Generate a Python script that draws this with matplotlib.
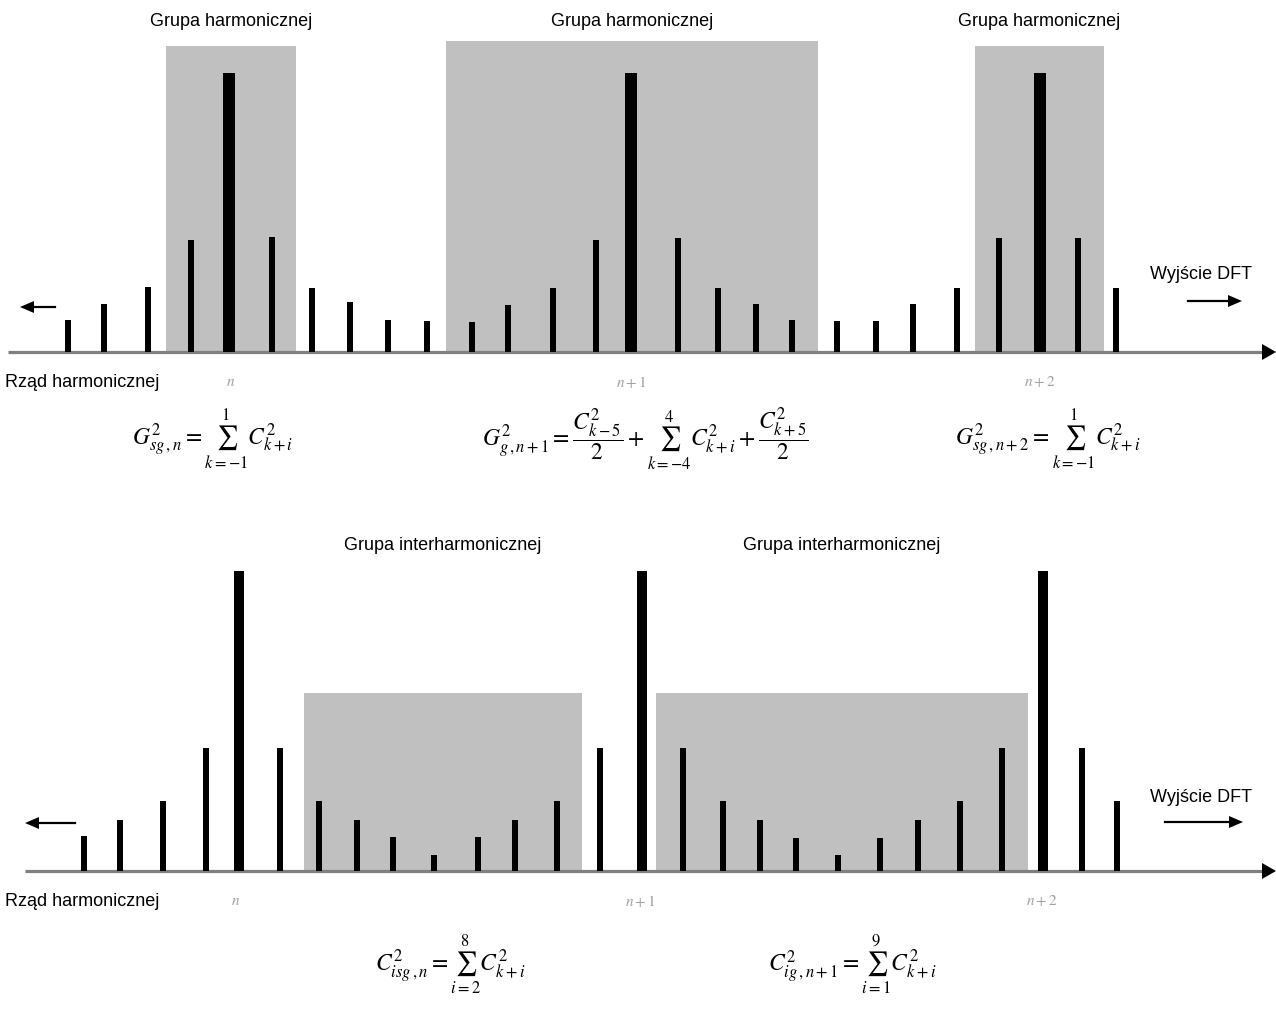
import matplotlib
matplotlib.use("Agg")
import matplotlib.pyplot as plt
from matplotlib.patches import Rectangle, Polygon

plt.rcParams['font.family'] = ['Liberation Sans', 'DejaVu Sans']
plt.rcParams['mathtext.fontset'] = 'stix'

W, H = 1276, 1012

# ---------------- data ----------------
top_x = [68, 104, 148, 191, 229, 272, 312, 350, 388, 427, 472, 508, 553, 596, 631,
         678, 718, 756, 792, 837, 876, 913, 957, 999, 1040, 1078, 1116]
top_h = [32, 48, 65, 112, 279, 115, 64, 50, 32, 31, 30, 47, 64, 112, 279,
         114, 64, 48, 32, 31, 31, 48, 64, 114, 279, 114, 64]
top_main = [229, 631, 1040]
top_groups = [(166, 296, 306), (446, 818, 311), (975, 1104, 306)]
top_group_label = "Grupa harmonicznej"
top_ticks = [231, 631, 1040]
tick_labels = ["$n$", "$n+1$", "$n+2$"]

bot_x = [84, 120, 163, 206, 239, 280, 319, 357, 393, 434, 478, 515, 557, 600, 642,
         683, 723, 760, 796, 838, 880, 918, 960, 1002, 1043, 1082, 1117]
bot_h = [35, 51, 70, 123, 300, 123, 70, 51, 34, 16, 34, 51, 70, 123, 300,
         123, 70, 51, 33, 16, 33, 51, 70, 123, 300, 123, 70]
bot_main = [239, 642, 1043]
bot_groups = [(304, 582, 178), (656, 1028, 178)]
bot_group_label = "Grupa interharmonicznej"
bot_ticks = [236, 640, 1042]

top_formulas = [
    r"$G^2_{sg\,,n}=\sum_{k=-1}^{1} C^2_{k+i}$",
    r"$G^2_{g\,,n+1}=\dfrac{C^2_{k-5}}{2}+\sum_{k=-4}^{4} C^2_{k+i}+\dfrac{C^2_{k+5}}{2}$",
    r"$G^2_{sg\,,n+2}=\sum_{k=-1}^{1} C^2_{k+i}$",
]
bot_formulas = [
    r"$C^2_{isg\,,n}=\sum_{i=2}^{8} C^2_{k+i}$",
    r"$C^2_{ig\,,n+1}=\sum_{i=1}^{9} C^2_{k+i}$",
]

fig = plt.figure(figsize=(W / 100, H / 100), dpi=100)
fig.patch.set_facecolor('white')


def make_ax(top_px, bottom_px, base_px):
    ax = fig.add_axes([0, 1 - bottom_px / H, 1, (bottom_px - top_px) / H])
    ax.set_xlim(0, W)
    ax.set_ylim(-(bottom_px - base_px), base_px - top_px)
    ax.axis('off')
    return ax


def draw_panel(ax, xs, hs, mains, groups, label, ticks, title_h,
               thick_w, thin_w, larrow, rarrow, dft_pos, axis_start):
    grey = '#c0c0c0'
    for (x0, x1, h) in groups:
        ax.add_patch(Rectangle((x0, 0), x1 - x0, h, facecolor=grey,
                               edgecolor='none', zorder=1))
        ax.text((x0 + x1) / 2, title_h, label, ha='center', va='center',
                fontsize=13, color='black')
    for x, h in zip(xs, hs):
        w = thick_w if x in mains else thin_w
        ax.bar(x, h, width=w, color='black', zorder=3)
    # axis line with arrowhead
    ax.plot([axis_start, 1262], [0, 0], color='#808080', lw=2.3, zorder=2,
            solid_capstyle='butt')
    ax.add_patch(Polygon([[1262, 8], [1276, 0], [1262, -8]], closed=True,
                         facecolor='black', edgecolor='none', zorder=4))
    # left arrow
    lx0, lx1, ly = larrow
    ax.plot([lx0, lx1 + 12], [ly, ly], color='black', lw=1.6)
    ax.add_patch(Polygon([[lx1 + 14, ly + 6], [lx1, ly], [lx1 + 14, ly - 6]],
                         closed=True, facecolor='black', edgecolor='none'))
    # right arrow
    rx0, rx1, ry = rarrow
    ax.plot([rx0, rx1 - 12], [ry, ry], color='black', lw=1.6)
    ax.add_patch(Polygon([[rx1 - 14, ry + 6], [rx1, ry], [rx1 - 14, ry - 6]],
                         closed=True, facecolor='black', edgecolor='none'))
    ax.text(dft_pos[0], dft_pos[1], "Wyjście DFT", ha='left', va='center',
            fontsize=13)
    ax.text(5, -30, "Rząd harmonicznej", ha='left', va='center', fontsize=13)
    for t, s in zip(ticks, tick_labels):
        ax.text(t, -29, s, ha='center', va='center', fontsize=11,
                color='#a0a0a0')


ax_top = make_ax(0, 400, 353)
draw_panel(ax_top, top_x, top_h, top_main, top_groups, top_group_label,
           top_ticks, 331, 12, 6, (55, 20, 45), (1188, 1242, 51), (1150, 78), 8)

ax_bot = make_ax(520, 920, 872)
draw_panel(ax_bot, bot_x, bot_h, bot_main, bot_groups, bot_group_label,
           bot_ticks, 327, 10, 6, (75, 25, 48), (1165, 1243, 49), (1150, 74), 25)

for cx, s in zip([213, 645, 1048], top_formulas):
    fig.text(cx / W, 1 - 440 / H, s, ha='center', va='center', fontsize=17)
for cx, s in zip([450, 852], bot_formulas):
    fig.text(cx / W, 1 - 965 / H, s, ha='center', va='center', fontsize=17)

fig.savefig('out.png', dpi=100, facecolor='white')
